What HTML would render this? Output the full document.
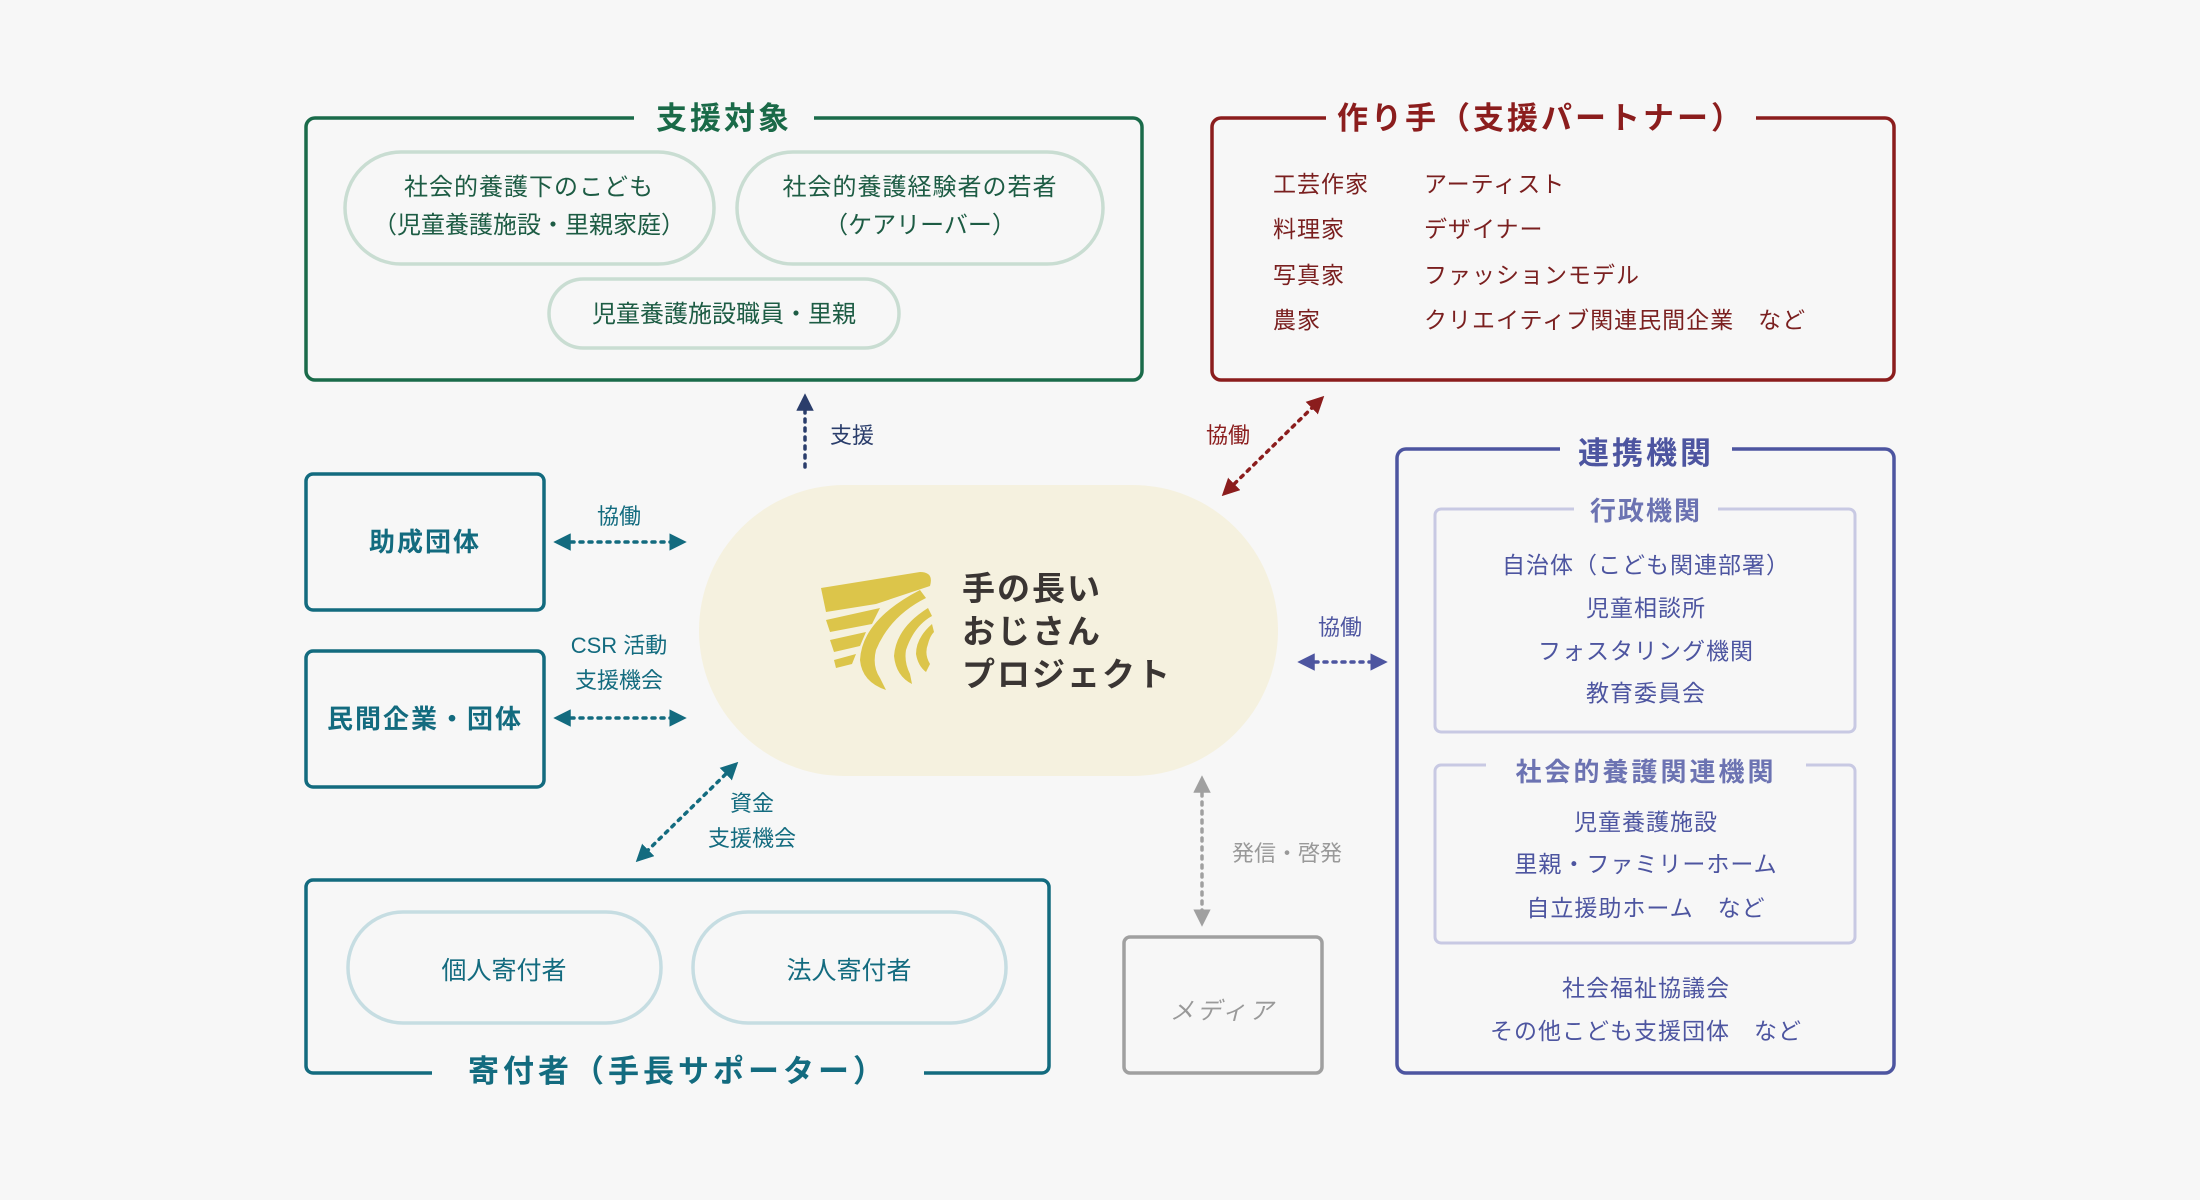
<!DOCTYPE html>
<html><head><meta charset="utf-8"><style>
html,body{margin:0;padding:0;background:#f7f7f7;}
svg{display:block;}
text{font-family:"Liberation Sans","Noto Sans CJK JP",sans-serif;}
</style></head><body>
<svg width="2200" height="1200" viewBox="0 0 2200 1200" xmlns="http://www.w3.org/2000/svg">
<defs>
<marker id="mN" viewBox="0 0 10 10" refX="5" refY="5" markerWidth="5" markerHeight="5" orient="auto-start-reverse"><path d="M0,0L10,5L0,10z" fill="#2a3d6b"/></marker>
<marker id="mR" viewBox="0 0 10 10" refX="5" refY="5" markerWidth="5" markerHeight="5" orient="auto-start-reverse"><path d="M0,0L10,5L0,10z" fill="#8b1d1d"/></marker>
<marker id="mT" viewBox="0 0 10 10" refX="5" refY="5" markerWidth="5" markerHeight="5" orient="auto-start-reverse"><path d="M0,0L10,5L0,10z" fill="#136b7f"/></marker>
<marker id="mB" viewBox="0 0 10 10" refX="5" refY="5" markerWidth="5" markerHeight="5" orient="auto-start-reverse"><path d="M0,0L10,5L0,10z" fill="#4d55a0"/></marker>
<marker id="mG" viewBox="0 0 10 10" refX="5" refY="5" markerWidth="5" markerHeight="5" orient="auto-start-reverse"><path d="M0,0L10,5L0,10z" fill="#a0a0a0"/></marker>
</defs>
<rect width="2200" height="1200" fill="#f7f7f7"/>

<rect x="306" y="118" width="836" height="262" rx="9" fill="none" stroke="#1a6b4a" stroke-width="3.5"/>
<rect x="634" y="100" width="180" height="36" fill="#f7f7f7"/>
<text x="724" y="129" text-anchor="middle" font-size="31" font-weight="bold" fill="#1a6a48" letter-spacing="3">支援対象</text>
<rect x="345" y="152" width="369" height="112" rx="56" fill="none" stroke="#c9ddd2" stroke-width="3.5"/>
<text x="529" y="195" text-anchor="middle" font-size="24" fill="#1d5c44" letter-spacing="1">社会的養護下のこども</text>
<text x="529" y="233" text-anchor="middle" font-size="24" fill="#1d5c44">（児童養護施設・里親家庭）</text>
<rect x="737" y="152" width="366" height="112" rx="56" fill="none" stroke="#c9ddd2" stroke-width="3.5"/>
<text x="920" y="195" text-anchor="middle" font-size="24" fill="#1d5c44" letter-spacing="1">社会的養護経験者の若者</text>
<text x="920" y="233" text-anchor="middle" font-size="24" fill="#1d5c44">（ケアリーバー）</text>
<rect x="549" y="279" width="350" height="69" rx="34.5" fill="none" stroke="#c9ddd2" stroke-width="3.5"/>
<text x="724" y="322" text-anchor="middle" font-size="24" fill="#1d5c44">児童養護施設職員・里親</text>

<rect x="1212" y="118" width="682" height="262" rx="9" fill="none" stroke="#8b1d1d" stroke-width="3.5"/>
<rect x="1326" y="100" width="430" height="36" fill="#f7f7f7"/>
<text x="1541" y="129" text-anchor="middle" font-size="31" font-weight="bold" fill="#8b1d1d" letter-spacing="3">作り手（支援パートナー）</text>
<g font-size="23" fill="#7a1f1f" letter-spacing="1">
<text x="1273" y="192">工芸作家</text><text x="1424" y="192">アーティスト</text>
<text x="1273" y="237">料理家</text><text x="1424" y="237">デザイナー</text>
<text x="1273" y="283">写真家</text><text x="1424" y="283">ファッションモデル</text>
<text x="1273" y="328">農家</text><text x="1424" y="328">クリエイティブ関連民間企業　など</text>
</g>

<rect x="1397" y="449" width="497" height="624" rx="9" fill="none" stroke="#4d55a0" stroke-width="3.5"/>
<rect x="1560" y="432" width="172" height="36" fill="#f7f7f7"/>
<text x="1646" y="464" text-anchor="middle" font-size="31" font-weight="bold" fill="#4d55a0" letter-spacing="3">連携機関</text>
<rect x="1435" y="509" width="420" height="223" rx="6" fill="none" stroke="#c8c9e3" stroke-width="3"/>
<rect x="1574" y="494" width="144" height="32" fill="#f7f7f7"/>
<text x="1646" y="520" text-anchor="middle" font-size="26" font-weight="bold" fill="#6c73b2" letter-spacing="2">行政機関</text>
<g font-size="23" fill="#4d55a0" text-anchor="middle" letter-spacing="1">
<text x="1646" y="573">自治体（こども関連部署）</text>
<text x="1646" y="616">児童相談所</text>
<text x="1646" y="659">フォスタリング機関</text>
<text x="1646" y="701">教育委員会</text>
</g>
<rect x="1435" y="765" width="420" height="178" rx="6" fill="none" stroke="#c8c9e3" stroke-width="3"/>
<rect x="1486" y="750" width="320" height="32" fill="#f7f7f7"/>
<text x="1646" y="781" text-anchor="middle" font-size="26" font-weight="bold" fill="#6c73b2" letter-spacing="3">社会的養護関連機関</text>
<g font-size="23" fill="#4d55a0" text-anchor="middle" letter-spacing="1">
<text x="1646" y="830">児童養護施設</text>
<text x="1646" y="872">里親・ファミリーホーム</text>
<text x="1646" y="916">自立援助ホーム　など</text>
<text x="1646" y="996">社会福祉協議会</text>
<text x="1646" y="1039">その他こども支援団体　など</text>
</g>

<rect x="306" y="474" width="238" height="136" rx="7" fill="none" stroke="#136b7f" stroke-width="3.5"/>
<text x="425" y="551" text-anchor="middle" font-size="26" font-weight="bold" fill="#136b7f" letter-spacing="2">助成団体</text>
<rect x="306" y="651" width="238" height="136" rx="7" fill="none" stroke="#136b7f" stroke-width="3.5"/>
<text x="425" y="728" text-anchor="middle" font-size="26" font-weight="bold" fill="#136b7f" letter-spacing="2">民間企業・団体</text>

<rect x="306" y="880" width="743" height="193" rx="7" fill="none" stroke="#136b7f" stroke-width="3.5"/>
<rect x="432" y="1052" width="492" height="40" fill="#f7f7f7"/>
<text x="678" y="1082" text-anchor="middle" font-size="31" font-weight="bold" fill="#136b7f" letter-spacing="4">寄付者（手長サポーター）</text>
<rect x="348" y="912" width="313" height="111" rx="55" fill="none" stroke="#c6dde2" stroke-width="3.5"/>
<text x="504" y="979" text-anchor="middle" font-size="25" fill="#136b7f">個人寄付者</text>
<rect x="693" y="912" width="313" height="111" rx="55" fill="none" stroke="#c6dde2" stroke-width="3.5"/>
<text x="849" y="979" text-anchor="middle" font-size="25" fill="#136b7f">法人寄付者</text>

<rect x="1124" y="937" width="198" height="136" rx="6" fill="none" stroke="#a0a0a0" stroke-width="3.5"/>
<text x="1223" y="1019" text-anchor="middle" font-size="24" fill="#999" letter-spacing="3" font-style="italic">メディア</text>

<rect x="699" y="485" width="579" height="291" rx="145.5" fill="#f5f1df"/>
<g fill="#dcc54a">
<path d="M821,588 L920,572 Q934,572 930,586 L876,604 L826,612 Z"/>
<path d="M826,620 L880,608 L872,624 L830,632 Z"/>
<path d="M830,640 L866,632 L860,646 L834,652 Z"/>
<path d="M834,660 L856,654 L852,664 L836,668 Z"/>
<path d="M920,590 Q862,620 860,660 Q862,682 886,690 L880,678 Q872,666 876,650 Q890,616 926,598 Z"/>
<path d="M928,608 Q896,628 894,656 Q896,676 912,684 L910,674 Q904,662 906,650 Q914,626 932,616 Z"/>
<path d="M932,624 Q916,638 916,654 Q918,666 926,672 L930,664 Q924,654 928,644 Q930,636 934,632 Z"/>
</g>
<g font-size="33" font-weight="bold" fill="#3a3533" letter-spacing="2">
<text x="962" y="600">手の長い</text>
<text x="962" y="643">おじさん</text>
<text x="962" y="686">プロジェクト</text>
</g>

<g stroke-width="3.5" stroke-dasharray="3 6" stroke-linecap="round" fill="none">
<line x1="805" y1="467" x2="805" y2="402" stroke="#2a3d6b" marker-end="url(#mN)"/>
<line x1="1228" y1="490" x2="1318" y2="402" stroke="#8b1d1d" marker-start="url(#mR)" marker-end="url(#mR)"/>
<line x1="562" y1="542" x2="678" y2="542" stroke="#136b7f" marker-start="url(#mT)" marker-end="url(#mT)"/>
<line x1="562" y1="718" x2="678" y2="718" stroke="#136b7f" marker-start="url(#mT)" marker-end="url(#mT)"/>
<line x1="732" y1="768" x2="642" y2="856" stroke="#136b7f" marker-start="url(#mT)" marker-end="url(#mT)"/>
<line x1="1306" y1="662" x2="1379" y2="662" stroke="#4d55a0" marker-start="url(#mB)" marker-end="url(#mB)"/>
<line x1="1202" y1="784" x2="1202" y2="918" stroke="#a0a0a0" marker-start="url(#mG)" marker-end="url(#mG)"/>
</g>
<g font-size="22">
<text x="852" y="443" text-anchor="middle" fill="#2a3d6b">支援</text>
<text x="1228" y="443" text-anchor="middle" fill="#8b1d1d">協働</text>
<text x="619" y="524" text-anchor="middle" fill="#136b7f">協働</text>
<text x="619" y="653" text-anchor="middle" fill="#136b7f">CSR 活動</text>
<text x="619" y="688" text-anchor="middle" fill="#136b7f">支援機会</text>
<text x="752" y="811" text-anchor="middle" fill="#136b7f">資金</text>
<text x="752" y="846" text-anchor="middle" fill="#136b7f">支援機会</text>
<text x="1340" y="635" text-anchor="middle" fill="#4d55a0">協働</text>
<text x="1287" y="861" text-anchor="middle" fill="#999">発信・啓発</text>
</g>
</svg>
</body></html>
